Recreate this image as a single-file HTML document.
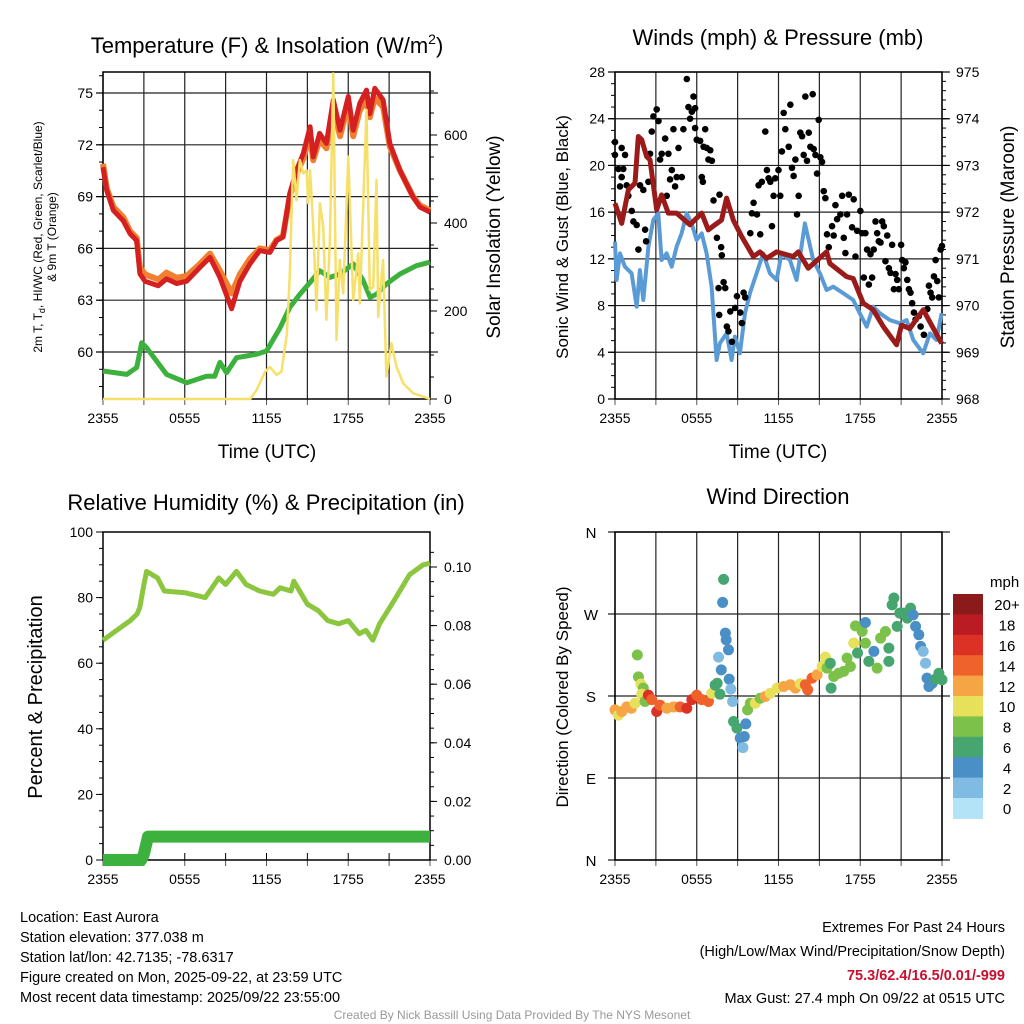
<!DOCTYPE html>
<html><head><meta charset="utf-8">
<style>
html,body{margin:0;padding:0;background:#fff;}
svg{display:block;font-family:"Liberation Sans",Arial,sans-serif;}
</style></head>
<body>
<svg id="s" width="1024" height="1024" viewBox="0 0 1024 1024" xmlns="http://www.w3.org/2000/svg">
<rect width="1024" height="1024" fill="#fff"/>
<g id="g1"></g>
<g id="g2"></g>
<g id="g3"></g>
<g id="g4"></g>
<g font-size="14.5" fill="#000">
<text x="20" y="922">Location: East Aurora</text>
<text x="20" y="942">Station elevation: 377.038 m</text>
<text x="20" y="962">Station lat/lon: 42.7135; -78.6317</text>
<text x="20" y="982">Figure created on Mon, 2025-09-22, at 23:59 UTC</text>
<text x="20" y="1002">Most recent data timestamp: 2025/09/22 23:55:00</text>
<text x="1005" y="932" text-anchor="end">Extremes For Past 24 Hours</text>
<text x="1005" y="956" text-anchor="end">(High/Low/Max Wind/Precipitation/Snow Depth)</text>
<text x="1005" y="980" text-anchor="end" font-weight="bold" fill="#c8102e">75.3/62.4/16.5/0.01/-999</text>
<text x="1005" y="1003" text-anchor="end">Max Gust: 27.4 mph On 09/22 at 0515 UTC</text>
<text x="512" y="1019" text-anchor="middle" font-size="12" fill="#999">Created By Nick Bassill Using Data Provided By The NYS Mesonet</text>
</g>
</svg>
<script>
// ---------- DATA ----------
const xTickLabels = ["2355","0555","1155","1755","2355"];
const tempTicks = [60,63,66,69,72,75];
const solarTicks = [0,200,400,600];
const windTicks = [0,4,8,12,16,20,24,28];
const presTicks = [968,969,970,971,972,973,974,975];
const rhTicks = [0,20,40,60,80,100];
const precipTicks = [0,0.02,0.04,0.06,0.08,0.10];
const dirLabels = ["N","E","S","W","N"];
const speedBinLabels = ["0","2","4","6","8","10","12","14","16","18","20+"];
const speedColors = ["#b3e3f7","#80bbe3","#4a8fc5","#47a66f","#7cc24a","#e6e05a","#f6a545","#f0622c","#dc3226","#bb1c23","#8b1a1a"];

const tempHours = [0,0.27,0.76,1.49,1.98,2.47,2.71,3.08,4.06,4.67,5.4,6.14,7.11,7.85,8.58,9.44,10.05,10.78,11.5,12.25,12.74,13.2,13.7,14.2,14.7,15.2,15.43,15.9,16.4,16.9,17.4,18.0,18.36,18.85,19.34,19.58,19.95,20.56,21.05,21.8,22.76,23.25,24];
const tempRed = [70.7,69.36,68.2,67.6,66.86,66.45,64.53,64.1,63.84,64.24,63.97,64.1,64.9,65.48,64.32,62.5,64.1,65.1,65.87,65.77,66.45,66.65,69.17,70.52,71.5,73.04,71.3,72.66,72.08,74.6,72.85,74.8,72.85,74.4,75.17,73.8,75.27,74.6,72.08,70.52,68.97,68.4,68.1];
const tempOrange = [70.9,69.5,68.4,67.8,67.0,66.6,64.9,64.5,64.2,64.6,64.3,64.4,65.1,65.7,64.7,63.4,64.5,65.4,66.0,65.9,66.5,66.7,69.0,70.3,71.2,72.6,71.1,72.3,71.8,74.1,72.5,74.4,72.5,74.0,74.6,73.6,74.7,74.2,71.9,70.5,69.0,68.5,68.2];
const dewHours = [0,1.74,2.47,2.84,3.2,4.67,6.14,7.6,8.2,8.58,9.07,9.8,10.54,11.27,12,13,13.7,14.45,15.2,15.9,16.65,17.4,18.36,19.1,19.6,20.07,20.8,21.8,23,24];
const dewPoint = [58.9,58.7,59.1,60.54,60.25,58.7,58.22,58.6,58.6,59.4,58.8,59.67,59.77,59.87,60.06,61.41,62.58,63.35,64.03,64.71,64.32,64.52,65.1,64.13,63.16,63.35,63.94,64.52,65.0,65.2];
const solarHours = [0,10.8,11.27,11.9,12.25,12.74,13.1,13.5,13.7,13.96,14.2,14.45,14.7,14.94,15.06,15.2,15.43,15.67,15.92,16.16,16.4,16.65,16.9,17.14,17.38,17.63,18.0,18.36,18.74,18.85,19.34,19.58,19.83,20.07,20.2,20.56,20.8,21.17,21.54,22.03,22.76,24];
const solarValues = [0,0,20,62,73,55,62,149,278,543,452,543,513,520,445,520,392,202,445,392,180,361,740,134,316,240,551,225,331,217,657,248,255,498,187,316,51,127,73,36,13,0];

const presHours = [0,0.49,0.98,1.47,1.71,1.96,2.32,2.57,3.06,3.42,3.91,4.52,5.5,6.36,6.85,7.34,7.82,8.19,8.68,9.29,10.15,10.64,11.13,11.86,13.08,13.45,14.18,15.53,15.77,17.0,17.48,18.22,18.95,19.69,20.67,21.03,21.64,22.62,23.97];
const presValues = [972.19,971.76,972.48,972.62,973.62,973.55,973.19,973.12,972.05,972.37,971.98,971.98,971.73,971.98,971.62,971.73,971.83,972.3,971.83,971.48,971.05,971.15,971.01,971.15,971.05,971.15,970.8,971.15,970.9,970.62,970.58,970.05,969.91,969.55,969.16,969.58,969.51,969.91,969.19];
const windHours = [0,0.12,0.37,0.73,1.22,1.59,1.83,2.08,2.45,2.81,3.18,3.42,3.79,4.16,4.52,4.89,5.26,5.62,5.99,6.36,6.72,7.09,7.46,7.7,8.19,8.56,8.8,9.17,9.54,9.9,10.39,10.88,11.37,11.86,12.23,12.84,13.33,13.94,14.55,15.04,15.53,16.02,16.76,17.48,17.97,18.47,18.95,19.44,20.18,20.91,21.4,21.89,22.62,23.11,23.6,23.97];
const windSpeed = [13.47,10.19,12.47,11.33,10.76,7.9,11.04,8.48,13.04,15.33,15.9,11.9,12.47,11.33,13.04,14.18,15.9,15.04,13.61,14.18,12.47,9.62,3.34,4.77,5.62,3.34,5.34,3.91,7.34,9.05,10.76,12.47,10.76,10.19,12.47,11.9,10.19,15.04,11.9,10.76,9.33,9.62,9.05,8.48,7.34,6.19,7.9,7.34,6.76,6.48,6.76,5.05,3.91,5.62,5.05,7.34];
const gustHours = [0,0,0.25,0.37,0.49,0.61,0.49,0.74,0.86,0.98,1.23,1.35,1.59,1.72,1.84,2.08,2.21,2.28,2.45,2.57,2.7,2.82,3.06,3.19,3.31,3.43,3.68,3.8,3.92,4.04,4.17,4.29,4.41,4.53,4.66,4.9,5.02,5.27,5.39,5.51,5.64,5.76,5.88,5.88,6.0,6.25,6.37,6.45,6.5,6.62,6.74,6.86,6.99,7.11,7.23,7.48,7.67,7.79,7.84,7.6,7.97,8.09,7.65,8.21,8.33,8.58,8.46,8.95,8.82,9.19,9.31,9.44,9.56,9.93,10.05,10.17,10.42,10.54,10.66,10.78,11.03,11.15,11.27,11.4,11.52,11.64,11.76,12.0,12.13,12.25,12.38,12.5,12.75,12.87,12.99,13.11,13.24,13.36,13.48,13.6,13.73,13.85,13.97,14.09,14.22,14.34,14.51,14.58,14.71,14.83,14.95,15.07,15.2,15.32,15.44,15.56,15.69,15.93,16.05,16.18,16.3,16.54,16.67,16.79,16.91,17.03,17.16,17.4,17.52,17.65,17.77,18.01,18.14,18.26,18.38,18.5,18.63,18.75,18.87,18.99,19.12,19.24,19.36,19.49,19.61,19.73,19.85,19.98,20.1,20.22,20.34,20.47,20.59,20.71,20.83,21.0,21.08,21.2,21.32,21.45,21.57,21.69,21.81,21.94,22.06,22.3,22.43,22.67,22.92,23.04,23.16,23.28,23.41,23.53,23.65,23.77,23.9,24];
const gustValues = [22,20.9,19.7,18.2,19,19.7,21.5,20.9,18.3,17.4,16.1,15.2,14.9,12.8,18.3,17.9,14.5,13.5,18.6,21,22.9,24.2,24.8,23.8,20.5,21,22.3,17.4,21,18.8,19.6,23.1,18.2,19,21.5,19,23.1,27.4,25,24,24.6,25.9,24.9,23.2,22.2,22.1,19,18.6,21.6,23.1,21.5,20.5,21.3,20.4,17,13.8,17.5,13,12.3,9.5,10,9.5,7.2,6.2,5.8,4.9,7.5,8.8,7.8,7.4,6.5,9.1,8.7,14.2,15.9,16.8,15.8,18.3,14.1,18.6,22.9,19.6,18.9,18.6,14.8,17.4,18.9,19.6,17.4,21.2,24.5,23.1,21.6,25.2,19.8,19.1,20.5,15.8,17.4,22.8,22.5,20.9,25.9,20.4,22.8,21.6,26.1,21.4,20.9,19.3,23.9,20.7,20.3,17.8,17.2,14.1,13,14.8,14,16.6,15.4,15.8,17.4,13.8,12.5,15.8,17.5,14.7,17.1,12.2,14.4,16.1,14.2,10.4,14.2,12.8,9.8,12.4,10.4,12.8,15.2,14.2,13.5,13.4,15.2,14.8,11.8,14,11.2,10.8,13.2,9.4,10.7,10.2,9.4,13.2,11.9,11.2,11.7,10.2,9.4,9.1,8.2,7.4,6.8,7.1,6.2,5.5,7.7,9.7,9.1,8.7,10.5,11.9,10.1,8.7,12.8,13.1];

const rhHours = [0,1.0,2.0,2.5,2.7,3.0,3.2,4.0,4.5,6.0,7.5,8.5,9.0,9.8,10.5,11.5,12.5,13.0,13.8,14.0,15.0,15.8,16.5,17.3,18.0,18.8,19.3,19.8,20.3,21.5,22.5,23.5,24];
const rhValues = [67,70,73,75,77,84,88,86,82,81.5,80,86,84,88,84,82,81,83,82,85,78,76,73,72,73,69,70,67,72,80,87,90,90.5];
const precipHours = [0,2.8,3.0,3.3,24];
const precipValues = [0,0,0.002,0.008,0.008];

const dirHours = [0,0.25,0.5,0.86,1.2,1.47,1.64,1.72,1.9,2.08,1.96,2.2,2.45,2.7,3.06,3.3,3.8,4.29,4.78,5.27,5.64,6,6.37,6.86,7.1,7.35,7.5,7.7,7.6,7.8,7.9,7.97,8.1,8.16,8.33,8.38,8.5,8.63,8.7,8.95,9.19,9.39,9.49,9.6,9.73,9.93,10.3,10.66,11.03,11.4,11.9,12.38,12.87,13.24,13.6,13.97,14.14,14.46,14.83,15.2,15.44,15.56,15.8,15.86,16.05,16.42,16.79,17.03,17.28,17.52,17.65,17.8,18.14,18.38,18.38,18.63,19,19.24,19.49,19.85,20.1,20.1,20.34,20.47,20.71,20.9,21.2,21.45,21.69,21.88,22.06,22.3,22.43,22.62,22.79,22.9,23.04,23.28,23.53,23.77,24];
const dirDegrees = [164.8,159,163,168,166.6,172,225,201,193,188.6,182,174,181,176,163,170,166.6,168,168,166.6,176,181,176,174,183,192,194,182,222.7,208.7,282.7,308,249,241.7,230.7,198.5,187.5,174,152,144.7,133.7,123.4,135.5,149.4,164.8,172,172,177.5,179.5,183,188.6,190.4,192.3,188.6,193.4,192.3,186.8,199.6,203.3,212.4,222.7,210.6,216,188.6,201.4,205,207,221.6,212.4,238,257,227.2,251,260.7,238,218,229,210.6,243.5,250.8,232.5,218,280,287.5,256.4,271,271,265.5,276.5,269,256.4,247.2,234.4,229,216,199.6,190.4,194,198.5,205,197.8];
const dirSpeeds = [12,10,12,12,12,10,8,8,10,8,10,8,16,14,16,14,12,12,14,16,16,14,14,14,10,6,6,6,2,4,4,6,4,4,4,4,2,2,6,6,4,2,4,4,8,8,10,8,12,10,10,12,12,12,10,14,14,14,12,10,10,8,6,6,8,8,8,8,8,10,8,6,8,4,8,6,4,8,8,8,6,6,6,6,6,6,6,6,6,4,4,4,4,2,2,4,4,4,6,6,6];

// ---------- HELPERS ----------
const NS = "http://www.w3.org/2000/svg";
function mk(parent, tag, attrs, txt){
  const e = document.createElementNS(NS, tag);
  for (const k in attrs) e.setAttribute(k, attrs[k]);
  if (txt !== undefined) e.textContent = txt;
  parent.appendChild(e);
  return e;
}
function lin(d0,d1,r0,r1){ return v => r0 + (v-d0)*(r1-r0)/(d1-d0); }
function pathD(xs, ys, fx, fy){
  return xs.map((h,i)=>(i?"L":"M")+fx(h).toFixed(1)+","+fy(ys[i]).toFixed(1)).join("");
}
function frame(g, L, T, R, B, grid, hTicksY, name){
  const fx = lin(0,24,L,R);
  for (let h=0; h<=24; h+=3){
    const x = fx(h);
    if (grid) { const ln = mk(g,"line",{x1:x,y1:T,x2:x,y2:B,stroke:"#222","stroke-width":1.2});
      
       }
    else { mk(g,"line",{x1:x,y1:B,x2:x,y2:B-7,stroke:"#000","stroke-width":1}); }
    mk(g,"line",{x1:x,y1:B,x2:x,y2:B+6,stroke:"#555","stroke-width":1});
  }
  hTicksY.forEach(y=>{
    if (grid) { const ln = mk(g,"line",{x1:L-7,y1:y,x2:R+8,y2:y,stroke:"#222","stroke-width":1.2});
      
       }
  });
  const r = mk(g,"rect",{x:L,y:T,width:R-L,height:B-T,fill:"none",stroke:"#000","stroke-width":1.5});
  
  
  xTickLabels.forEach((t,i)=>{
    const tx = mk(g,"text",{x:fx(i*6),y:B+24,"text-anchor":"middle","font-size":14},t);
    
    
  });
  return fx;
}
function ytick(g, x, y, label, side, major){
  const len = major?7:4;
  if (side==="L"){
    mk(g,"line",{x1:x-len,y1:y,x2:x,y2:y,stroke:"#000","stroke-width":1});
    if (label!==null){ const t = mk(g,"text",{x:x-10,y:y+5,"text-anchor":"end","font-size":14},label);
      
       }
  } else {
    mk(g,"line",{x1:x,y1:y,x2:x+len,y2:y,stroke:"#000","stroke-width":1});
    if (label!==null){ const t = mk(g,"text",{x:x+14,y:y+5,"text-anchor":"start","font-size":14},label);
      
       }
  }
}
function rotText(g, x, y, s, size, name){
  const t = mk(g,"text",{x:0,y:0,transform:`translate(${x},${y}) rotate(-90)`,"text-anchor":"middle","font-size":size},s);
  
  
  return t;
}

// ---------- PANEL 1 ----------
(function(){
  const g = document.getElementById("g1");
  const L=103,T=72,R=430,B=399;
  const fy = lin(60,75,352,93);
  const fs = lin(0,600,399,135);
  const fx = frame(g,L,T,R,B,true,tempTicks.map(fy),"temperature");
  for (let v=58; v<=76; v++) ytick(g,L,fy(v),null,"L",false);
  tempTicks.forEach(v=>ytick(g,L,fy(v),String(v),"L",true));
  for (let v=0; v<=700; v+=50) ytick(g,R,fs(v),null,"R",false);
  solarTicks.forEach(v=>ytick(g,R,fs(v),String(v),"R",true));
  const dew = mk(g,"path",{d:pathD(dewHours,dewPoint,fx,fy),fill:"none",stroke:"#3db13d","stroke-width":5,"stroke-linejoin":"round"});
  
  
  const sol = mk(g,"path",{d:pathD(solarHours,solarValues,fx,fs),fill:"none",stroke:"#f7e06a","stroke-width":2.5,"stroke-linejoin":"round"});
  const orng = mk(g,"path",{d:pathD(tempHours,tempOrange,fx,fy),fill:"none",stroke:"#f08030","stroke-width":6,"stroke-linejoin":"round"});
  
  
  const red = mk(g,"path",{d:pathD(tempHours,tempRed,fx,fy),fill:"none",stroke:"#d42020","stroke-width":5,"stroke-linejoin":"round"});
  
  
  g.appendChild(sol);
  
  
  const tt = mk(g,"text",{x:267,y:53,"text-anchor":"middle","font-size":22});
  tt.innerHTML = 'Temperature (F) &amp; Insolation (W/m<tspan dy="-9" font-size="14">2</tspan><tspan dy="9">)</tspan>';
  
  
  const xt = mk(g,"text",{x:267,y:458,"text-anchor":"middle","font-size":19},"Time (UTC)");
  
  
  const yl = mk(g,"text",{x:0,y:0,transform:"translate(42,237) rotate(-90)","text-anchor":"middle","font-size":12});
  yl.innerHTML = '2m T, T<tspan dy="3" font-size="9">d</tspan><tspan dy="-3">, HI/WC (Red, Green, Scarlet/Blue)</tspan>';
  
  
  rotText(g,56,237,"& 9m T (Orange)",12,"temperature-axis-subtitle");
  rotText(g,500,237,"Solar Insolation (Yellow)",19,"solar-axis-title");
})();

// ---------- PANEL 2 ----------
(function(){
  const g = document.getElementById("g2");
  const L=615,T=72,R=942,B=399;
  const fy = lin(0,28,399,72);
  const fp = lin(968,975,399,72);
  const fx = frame(g,L,T,R,B,true,windTicks.map(fy),"winds");
  for (let v=0; v<=28; v++) ytick(g,L,fy(v),null,"L",false);
  windTicks.forEach(v=>ytick(g,L,fy(v),String(v),"L",true));
  for (let v=968; v<=975; v+=0.2) ytick(g,R,fp(v),null,"R",false);
  presTicks.forEach(v=>ytick(g,R,fp(v),String(v),"R",true));
  const w = mk(g,"path",{d:pathD(windHours,windSpeed,fx,fy),fill:"none",stroke:"#5b9bd5","stroke-width":4,"stroke-linejoin":"round"});
  
  
  gustHours.forEach((h,i)=>{
    const c = mk(g,"circle",{cx:fx(h),cy:fy(gustValues[i]),r:3.3,fill:"#000"});
    
    
  });
  const p = mk(g,"path",{d:pathD(presHours,presValues,fx,fp),fill:"none",stroke:"#9b1b1b","stroke-width":5,"stroke-linejoin":"round"});
  
  
  const tt = mk(g,"text",{x:778,y:45,"text-anchor":"middle","font-size":22},"Winds (mph) & Pressure (mb)");
  
  
  const xt = mk(g,"text",{x:778,y:458,"text-anchor":"middle","font-size":19},"Time (UTC)");
  
  
  rotText(g,568,237,"Sonic Wind & Gust (Blue, Black)",17,"wind-axis-title");
  rotText(g,1014,237,"Station Pressure (Maroon)",19,"pressure-axis-title");
})();

// ---------- PANEL 3 ----------
(function(){
  const g = document.getElementById("g3");
  const L=103,T=532,R=430,B=860;
  const fy = lin(0,100,860,532);
  const fp = lin(0,0.10,860,567);
  const fx = frame(g,L,T,R,B,false,[], "humidity");
  for (let v=0; v<=100; v+=5) ytick(g,L,fy(v),null,"L",false);
  rhTicks.forEach(v=>ytick(g,L,fy(v),String(v),"L",true));
  for (let v=0; v<=0.11; v+=0.005) ytick(g,R,fp(v),null,"R",false);
  precipTicks.forEach(v=>ytick(g,R,fp(v),v.toFixed(2),"R",true));
  const pr = mk(g,"path",{d:pathD(precipHours,precipValues,fx,fp),fill:"none",stroke:"#3db13d","stroke-width":12,"stroke-linejoin":"round"});
  
  
  const rh = mk(g,"path",{d:pathD(rhHours,rhValues,fx,fy),fill:"none",stroke:"#8cc63f","stroke-width":5,"stroke-linejoin":"round"});
  
  
  const tt = mk(g,"text",{x:266,y:510,"text-anchor":"middle","font-size":22},"Relative Humidity (%) & Precipitation (in)");
  
  
  rotText(g,42,697,"Percent & Precipitation",20,"humidity-axis-title");
})();

// ---------- PANEL 4 ----------
(function(){
  const g = document.getElementById("g4");
  const L=615,T=532,R=942,B=860;
  const fy = lin(0,360,860,532);
  const fx = frame(g,L,T,R,B,true,[0,90,180,270,360].map(fy),"wind-direction");
  dirLabels.forEach((s,i)=>{
    const t = mk(g,"text",{x:591,y:fy(i*90)+6,"text-anchor":"middle","font-size":15},s);
    
    
  });
  dirHours.forEach((h,i)=>{
    const idx = Math.min(10, Math.round(dirSpeeds[i]/2));
    const c = mk(g,"circle",{cx:fx(h),cy:fy(dirDegrees[i]),r:5.5,fill:speedColors[idx]});
    
    
  });
  const tt = mk(g,"text",{x:778,y:504,"text-anchor":"middle","font-size":22},"Wind Direction");
  
  
  rotText(g,568,697,"Direction (Colored By Speed)",17,"direction-axis-title");
  const cb = mk(g,"g",{});
  
  
  const top=594, bh=20.4;
  speedBinLabels.forEach((lab,i)=>{
    const k = 10-i;
    const y = top + i*bh;
    const rr = mk(cb,"rect",{x:953,y:y,width:30,height:bh+0.5,fill:speedColors[k]});
    
    
    const t = mk(cb,"text",{x:1007,y:y+bh/2+6,"text-anchor":"middle","font-size":15},speedBinLabels[k]);
    
    
  });
  const u = mk(cb,"text",{x:990,y:587,"font-size":15},"mph");
  
  
})();
</script>
</body></html>
